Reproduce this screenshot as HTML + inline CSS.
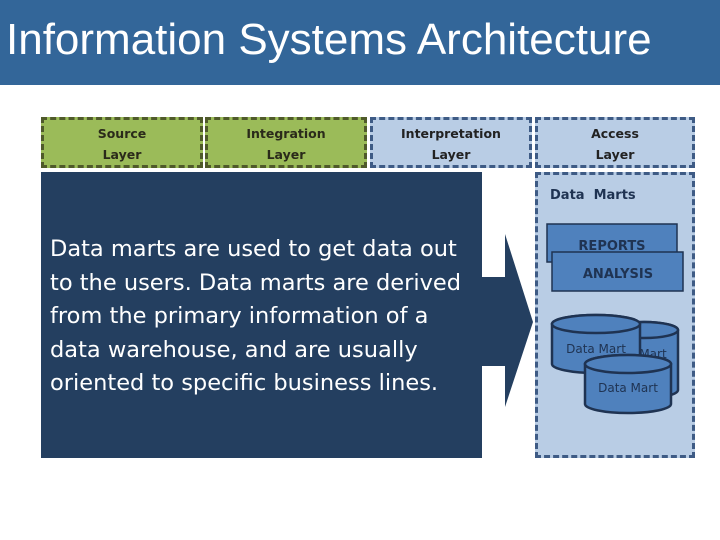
<!DOCTYPE html>
<html><head><style>
body{margin:0;width:720px;height:540px;background:#fff;position:relative;overflow:hidden;font-family:"Liberation Sans",sans-serif}
.t{position:absolute;left:0;top:0;width:720px;height:85px;background:#336699;color:#fff;font-size:44px;line-height:80px;padding-left:6px;box-sizing:border-box}
.b{position:absolute;box-sizing:border-box;text-align:center;line-height:21px;color:#222;padding-top:3px;font-family:"DejaVu Sans",sans-serif;font-size:12.5px;font-weight:bold}
.g{background:#9bbb59;border:3px dashed #4f5a2a}
.l{background:#b9cde5;border:3px dashed #3e5b85}
</style></head><body>
<div class="t">Information Systems Architecture</div>
<div class="b g" style="left:41px;top:117px;width:162px;height:51px;color:#2a2a1a">Source<br>Layer</div>
<div class="b g" style="left:205px;top:117px;width:162px;height:51px;color:#2a2a1a">Integration<br>Layer</div>
<div class="b l" style="left:370px;top:117px;width:162px;height:51px">Interpretation<br>Layer</div>
<div class="b l" style="left:535px;top:117px;width:160px;height:51px">Access<br>Layer</div>
<div class="b l" style="left:535px;top:172px;width:160px;height:286px;text-align:left;padding-left:12px;padding-top:10px;color:#1f3352;font-size:13px">Data&nbsp; Marts</div>
<div style="position:absolute;left:41px;top:172px;width:441px;height:286px;background:#243f60"></div>
<div style="position:absolute;left:50px;top:233px;width:422px;color:#fff;font-size:22.5px;line-height:33.5px;font-family:'DejaVu Sans',sans-serif">Data marts are used to get data out to the users. Data marts are derived from the primary information of a data warehouse, and are usually oriented to specific business lines.</div>
<svg width="720" height="540" style="position:absolute;left:0;top:0">
<polygon points="482,277 505,277 505,234 533,322 505,407 505,366 482,366" fill="#243f60"/>
<g font-family="DejaVu Sans,sans-serif" font-weight="bold" font-size="13" fill="#1f3352" text-anchor="middle">
<rect x="547" y="224" width="130" height="38" fill="#4f81bd" stroke="#1f3352" stroke-width="1.5"/>
<text x="612" y="250">REPORTS</text>
<rect x="552" y="252" width="131" height="39" fill="#4f81bd" stroke="#1f3352" stroke-width="1.5"/>
<text x="618" y="278">ANALYSIS</text>
</g>
<g stroke="#1f3352" stroke-width="2.5" fill="#4f81bd" font-family="DejaVu Sans,sans-serif" font-size="12" text-anchor="middle">
<path d="M610,330 v60 a34,8 0 0 0 68,0 v-60 a34,8 0 0 0 -68,0z"/><ellipse cx="644" cy="330" rx="34" ry="8"/>
<text x="653" y="358" fill="#1f3352" stroke="none">Mart</text>
<path d="M552,324 v40 a44,9 0 0 0 88,0 v-40 a44,9 0 0 0 -88,0z"/><ellipse cx="596" cy="324" rx="44" ry="9"/>
<text x="596" y="353" fill="#1f3352" stroke="none">Data  Mart</text>
<path d="M585,364 v40 a43,9 0 0 0 86,0 v-40 a43,9 0 0 0 -86,0z"/><ellipse cx="628" cy="364" rx="43" ry="9"/>
<text x="628" y="392" fill="#1f3352" stroke="none">Data  Mart</text>
</g>
</svg>
</body></html>
